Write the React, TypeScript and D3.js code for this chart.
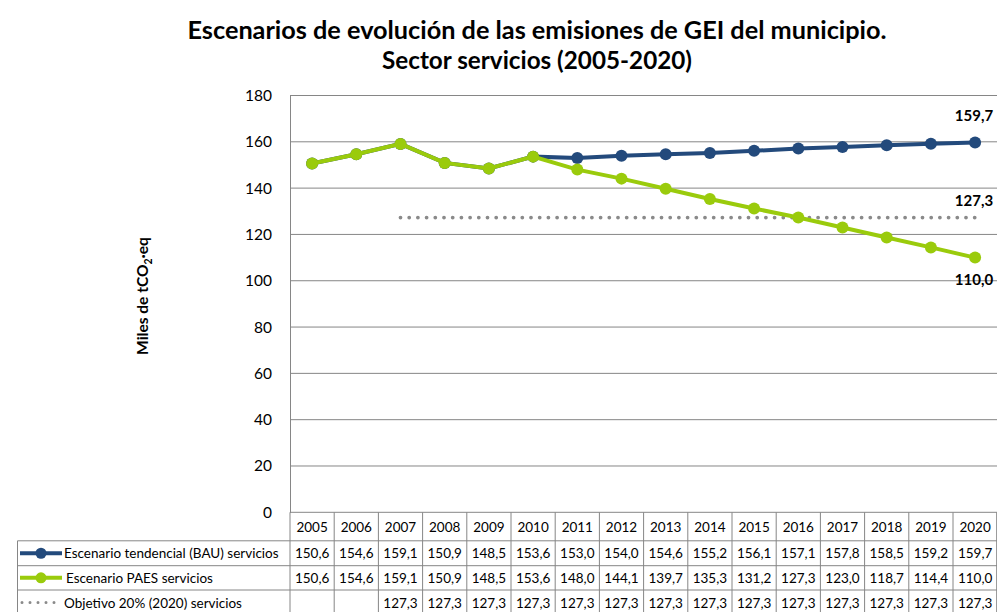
import React, { useEffect, useRef } from "react";
import * as d3 from "d3";

const years = [
  "2005", "2006", "2007", "2008", "2009", "2010", "2011", "2012",
  "2013", "2014", "2015", "2016", "2017", "2018", "2019", "2020",
];
const bauValues = [
  150.6, 154.6, 159.1, 150.9, 148.5, 153.6, 153.0, 154.0,
  154.6, 155.2, 156.1, 157.1, 157.8, 158.5, 159.2, 159.7,
];
const paesValues = [
  150.6, 154.6, 159.1, 150.9, 148.5, 153.6, 148.0, 144.1,
  139.7, 135.3, 131.2, 127.3, 123.0, 118.7, 114.4, 110.0,
];
const targetValues: (number | null)[] = [
  null, null, 127.3, 127.3, 127.3, 127.3, 127.3, 127.3,
  127.3, 127.3, 127.3, 127.3, 127.3, 127.3, 127.3, 127.3,
];
const yTicks = [0, 20, 40, 60, 80, 100, 120, 140, 160, 180];
const seriesNames = [
  "Escenario tendencial (BAU) servicios",
  "Escenario PAES servicios",
  "Objetivo 20% (2020) servicios",
];

const W = 997;
const H = 612;
const FONT = "Lato, 'DejaVu Sans', sans-serif";

export default function App() {
  const svgRef = useRef<SVGSVGElement>(null);

  useEffect(() => {
    if (!svgRef.current) return;
    const svg = d3.select(svgRef.current);
    svg.selectAll("*").remove();

    const left = 290;
    const right = 997.2;
    const top = 95.5;
    const bottom = 512.3;

    const x = d3.scaleBand().domain(years).range([left, right]).paddingInner(0).paddingOuter(0);
    const cx = (i: number) => (x(years[i]) ?? 0) + x.bandwidth() / 2;
    const y = d3.scaleLinear().domain([0, 180]).range([bottom, top]);

    const grid = "#868686";

    svg.append("rect").attr("width", W).attr("height", H).attr("fill", "#fff");

    // title (widths matched to the original)
    const title = svg
      .append("text")
      .attr("text-anchor", "middle")
      .style("font-family", FONT)
      .style("font-weight", "bold")
      .style("font-size", "24.5px")
      .style("fill", "#000");
    title
      .append("tspan")
      .attr("x", 537)
      .attr("y", 39)
      .attr("textLength", 699)
      .attr("lengthAdjust", "spacingAndGlyphs")
      .text("Escenarios de evolución de las emisiones de GEI del municipio.");
    title
      .append("tspan")
      .attr("x", 537)
      .attr("y", 69)
      .attr("textLength", 310)
      .attr("lengthAdjust", "spacingAndGlyphs")
      .text("Sector servicios (2005-2020)");

    // gridlines
    svg
      .append("g")
      .selectAll("line")
      .data(yTicks.filter((t) => t > 0))
      .join("line")
      .attr("x1", left)
      .attr("x2", right)
      .attr("y1", (d) => y(d))
      .attr("y2", (d) => y(d))
      .attr("stroke", grid)
      .attr("stroke-width", 1);

    // y axis
    const yAxis = svg
      .append("g")
      .attr("transform", `translate(${left},0)`)
      .call(d3.axisLeft(y).tickValues(yTicks).tickSize(0).tickPadding(18));
    yAxis.select(".domain").attr("stroke", grid);
    yAxis
      .selectAll("text")
      .style("font-family", FONT)
      .style("font-size", "15.5px")
      .style("fill", "#000");

    svg
      .append("text")
      .attr("transform", `translate(148,296) rotate(-90)`)
      .attr("text-anchor", "middle")
      .style("font-family", FONT)
      .style("font-weight", "bold")
      .style("font-size", "15.5px")
      .call((t) => {
        t.append("tspan").text("Miles de tCO");
        t.append("tspan").attr("dy", 4).style("font-size", "10.5px").text("2");
        t.append("tspan").attr("dy", -4).text("·eq");
      });

    // target dotted line
    const line = d3
      .line<number | null>()
      .defined((d) => d !== null)
      .x((_d, i) => cx(i))
      .y((d) => y(d as number));

    svg
      .append("path")
      .datum(targetValues)
      .attr("d", line)
      .attr("fill", "none")
      .attr("stroke", "#8a8a8a")
      .attr("stroke-width", 3.8)
      .attr("stroke-linecap", "round")
      .attr("stroke-dasharray", "0 8.7");

    const drawSeries = (vals: number[], color: string) => {
      svg
        .append("path")
        .datum(vals)
        .attr("d", line)
        .attr("fill", "none")
        .attr("stroke", color)
        .attr("stroke-width", 4);
      svg
        .append("g")
        .selectAll("circle")
        .data(vals)
        .join("circle")
        .attr("cx", (_d, i) => cx(i))
        .attr("cy", (d) => y(d))
        .attr("r", 6)
        .attr("fill", color);
    };
    drawSeries(bauValues, "#234a7c");
    drawSeries(paesValues, "#9acb0c");

    // end labels
    const endLabels = [
      { v: bauValues[15], dy: -22 },
      { v: targetValues[15] as number, dy: -12 },
      { v: paesValues[15], dy: 27 },
    ];
    svg
      .append("g")
      .selectAll("text")
      .data(endLabels)
      .join("text")
      .attr("x", cx(15) + 18)
      .attr("y", (d) => y(d.v) + d.dy)
      .attr("text-anchor", "end")
      .style("font-family", FONT)
      .style("font-weight", "bold")
      .style("font-size", "15px")
      .text((d) => d3.format(".1f")(d.v).replace(".", ","));

    // data table
    const rowTop = [bottom, 540.8, 565.7, 590, 615];
    const tableG = svg.append("g");
    const tLine = (x1: number, y1: number, x2: number, y2: number) =>
      tableG
        .append("line")
        .attr("x1", x1)
        .attr("y1", y1)
        .attr("x2", x2)
        .attr("y2", y2)
        .attr("stroke", grid)
        .attr("stroke-width", 1);

    tLine(left, bottom, right, bottom);
    for (let r = 1; r < rowTop.length - 1; r++) tLine(17.5, rowTop[r], right, rowTop[r]);
    years.forEach((yr) => {
      const x0 = x(yr) ?? 0;
      tLine(x0, bottom, x0, rowTop[4]);
    });
    tLine(right - 0.5, bottom, right - 0.5, rowTop[4]);
    tLine(17.5, rowTop[1], 17.5, rowTop[4]);

    const cellText = (txt: string, xc: number, r: number) =>
      tableG
        .append("text")
        .attr("x", xc)
        .attr("y", (rowTop[r] + rowTop[r + 1]) / 2 + 5)
        .attr("text-anchor", "middle")
        .style("font-family", FONT)
        .style("font-size", "13.5px")
        .style("fill", "#000")
        .text(txt);

    const fmt = (v: number | null) => (v === null ? "" : d3.format(".1f")(v).replace(".", ","));
    years.forEach((yr, i) => {
      cellText(yr, cx(i), 0);
      cellText(fmt(bauValues[i]), cx(i), 1);
      cellText(fmt(paesValues[i]), cx(i), 2);
      cellText(fmt(targetValues[i]), cx(i), 3);
    });

    // legend keys
    const keyColors = ["#234a7c", "#9acb0c"];
    keyColors.forEach((c, k) => {
      const ym = (rowTop[k + 1] + rowTop[k + 2]) / 2;
      tableG.append("line").attr("x1", 20).attr("x2", 62).attr("y1", ym).attr("y2", ym).attr("stroke", c).attr("stroke-width", 4);
      tableG.append("circle").attr("cx", 41).attr("cy", ym).attr("r", 5.5).attr("fill", c);
    });
    const ymT = (rowTop[3] + rowTop[4]) / 2;
    tableG
      .append("line")
      .attr("x1", 22)
      .attr("x2", 62)
      .attr("y1", ymT)
      .attr("y2", ymT)
      .attr("stroke", "#8a8a8a")
      .attr("stroke-width", 3)
      .attr("stroke-linecap", "round")
      .attr("stroke-dasharray", "0 8");
    seriesNames.forEach((n, k) => {
      tableG
        .append("text")
        .attr("x", k === 1 ? 66 : 64)
        .attr("y", (rowTop[k + 1] + rowTop[k + 2]) / 2 + 5)
        .style("font-family", FONT)
        .style("font-size", "13.5px")
        .text(n);
    });
  }, []);

  return (
    <svg
      ref={svgRef}
      width={W}
      height={H}
      style={{ position: "absolute", left: 0, top: 0 }}
    />
  );
}
